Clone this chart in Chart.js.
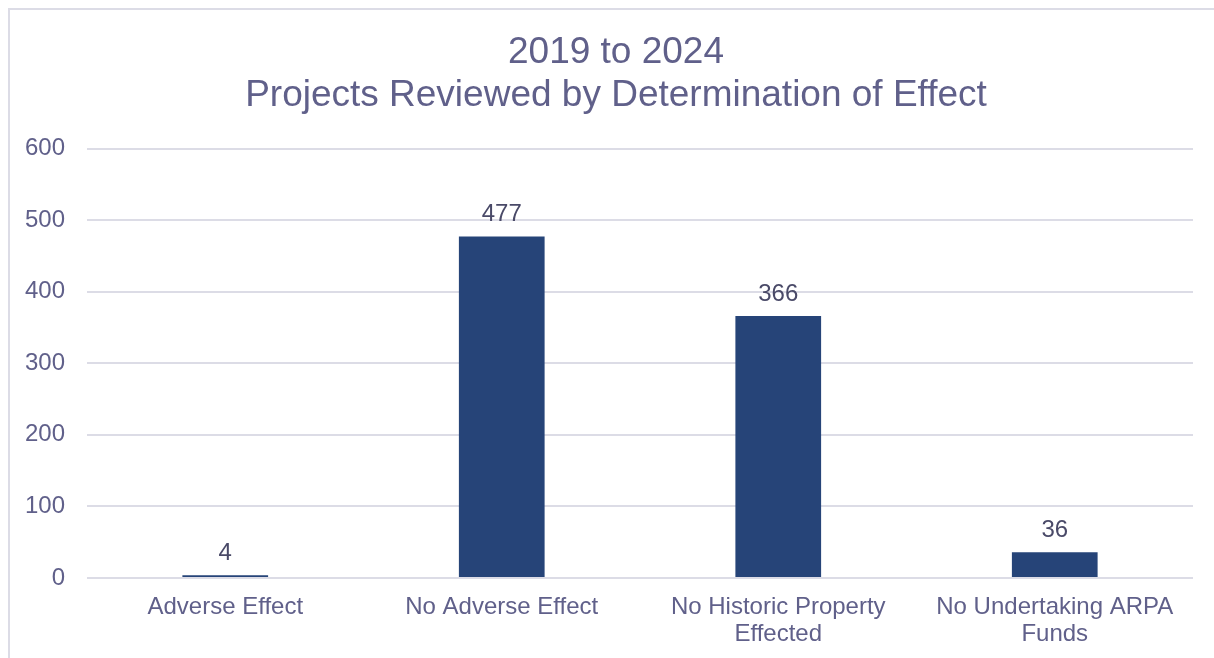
<!DOCTYPE html>
<html>
<head>
<meta charset="utf-8">
<script src="https://cdn.jsdelivr.net/npm/chart.js@4"></script>
<style>
  html, body { margin: 0; padding: 0; background: #fff; overflow: hidden; }
  #wrap { position: absolute; left: 0; top: 0; width: 1214px; height: 658px; }
  #frame { position: absolute; left: 8px; top: 8px; width: 1300px; height: 700px;
           border: 2px solid #dcdce6; box-sizing: border-box; pointer-events: none; }
</style>
</head>
<body>
<div id="wrap">
  <canvas id="effectChart" width="1214" height="658"></canvas>
  <div id="frame"></div>
</div>
<script>
// chart data
var categories = [
  'Adverse Effect',
  'No Adverse Effect',
  ['No Historic Property', 'Effected'],
  ['No Undertaking ARPA', 'Funds']
];
var projectCounts = [4, 477, 366, 36];
var titleLines = ['2019 to 2024', 'Projects Reviewed by Determination of Effect'];

var textColor = '#60608a';
var labelColor = '#4a4a68';
var gridColor = '#dcdce6';
var barColor = '#264478';
var fontFamily = '"Liberation Sans", Arial, sans-serif';

// simple value labels above bars
var valueLabels = {
  id: 'valueLabels',
  afterLayout: function (chart) {
    // centre the title a bit right, like the original
    if (chart.titleBlock) {
      chart.titleBlock.left = 39;
    }
  },
  afterDatasetsDraw: function (chart) {
    var ctx = chart.ctx;
    ctx.save();
    ctx.font = '24px ' + fontFamily;
    ctx.fillStyle = labelColor;
    ctx.textAlign = 'center';
    ctx.textBaseline = 'bottom';
    chart.getDatasetMeta(0).data.forEach(function (bar, i) {
      ctx.fillText(projectCounts[i], bar.x, bar.y - 10);
    });
    ctx.restore();
  }
};

var ctxEl = document.getElementById('effectChart');
var effectChart = new Chart(ctxEl, {
  type: 'bar',
  data: {
    labels: categories,
    datasets: [{
      label: 'Projects',
      data: projectCounts,
      backgroundColor: barColor,
      borderWidth: 0,
      barPercentage: 0.31,
      categoryPercentage: 1
    }]
  },
  options: {
    responsive: false,
    animation: false,
    layout: { padding: { left: 0, right: 21, top: 0, bottom: 0 } },
    plugins: {
      legend: { display: false },
      tooltip: { enabled: false },
      title: {
        display: true,
        text: titleLines,
        color: textColor,
        font: { family: fontFamily, size: 37, weight: 'normal', lineHeight: 1.17 },
        padding: { top: 31, bottom: 31 }
      }
    },
    scales: {
      x: {
        afterFit: function (scale) { scale.height = 80; },
        grid: { display: false, drawTicks: false },
        border: { display: false },
        ticks: {
          color: textColor,
          padding: 16,
          maxRotation: 0,
          autoSkip: false,
          font: { family: fontFamily, size: 24, lineHeight: 1.13 }
        }
      },
      y: {
        min: 0,
        max: 600,
        afterFit: function (scale) { scale.width = 87; },
        grid: { color: gridColor, lineWidth: 2, drawTicks: false },
        border: { display: false },
        ticks: {
          stepSize: 100,
          color: textColor,
          padding: 22,
          font: { family: fontFamily, size: 24 }
        }
      }
    }
  },
  plugins: [valueLabels]
});
</script>
</body>
</html>
